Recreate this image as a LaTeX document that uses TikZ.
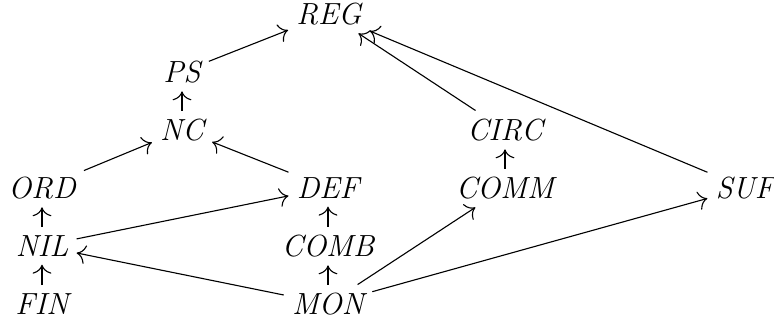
\documentclass[tikz,border=0pt]{standalone}
\usetikzlibrary{arrows.meta,positioning}
\tikzset{
  cls/.style = { inner sep=2.8pt, font=\fontsize{11}{13}\selectfont\itshape },
}
\begin{document}
\begin{tikzpicture}[x=0.36pt,y=-0.36pt,>={Computer Modern Rightarrow[scale=1.3]},node distance=20.9pt,on grid]
    \useasboundingbox (0,0) rectangle (774,324);
    % left column
    \node[cls] (fin) at (42,304) {FIN};
    \node[cls, above=of fin] (nil) {NIL};
    \node[cls, above=of nil] (ord) {ORD};
    % middle columns
    \node[cls] (nc) at (182,130) {NC};
    \node[cls, above=of nc] (ps) {PS};
    \node[cls] (mon) at (328,304) {MON};
    \node[cls, above=of mon] (comb) {COMB};
    \node[cls, above=of comb] (def) {DEF};
    \node[cls] (reg) at (329,14) {REG};
    % right columns
    \node[cls] (comm) at (505,188) {COMM};
    \node[cls, above=of comm] (circ) {CIRC};
    \node[cls] (suf) at (745,188) {SUF};

    \path[->] (fin) edge (nil);
    \path[->] (nil) edge (ord);
    \path[->] (ord) edge (nc);
    \path[->] (def) edge (nc);
    \path[->] (nc) edge (ps);
    \path[->] (ps) edge (reg);
    \path[->] (circ) edge (reg);
    \path[->] (suf) edge (reg);
    \path[->] (comm) edge (circ);
    \path[->] (nil) edge (def);
    \path[->] (comb) edge (def);
    \path[->] (mon) edge (comb);
    \path[->] (mon) edge (nil);
    \path[->] (mon) edge (comm);
    \path[->] (mon) edge (suf);
  \end{tikzpicture}
\end{document}
